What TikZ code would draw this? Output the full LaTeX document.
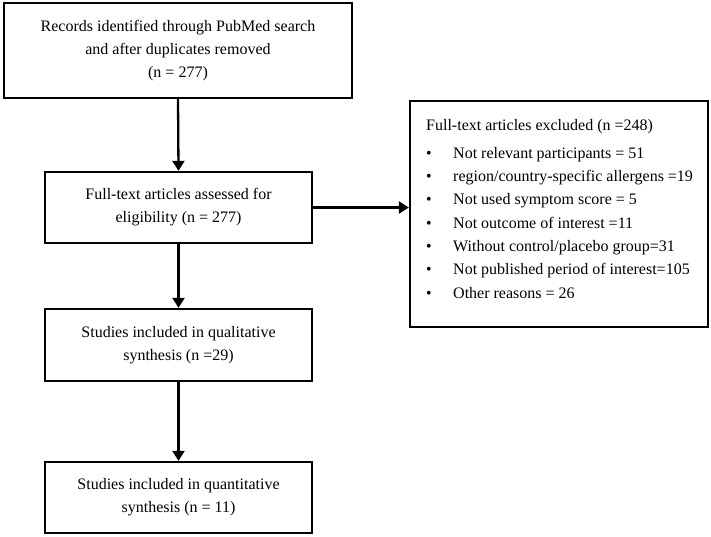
\documentclass[tikz,border=0pt]{standalone}
\usepackage{fontspec}
\setmainfont{Liberation Serif}
\usetikzlibrary{arrows.meta}
\begin{document}
\begin{tikzpicture}[x=1pt,y=-1pt,
  box/.style={draw=black,line width=2.3pt,rectangle,inner sep=0pt,align=center,
    font=\fontsize{16}{23}\selectfont},
  conn/.style={line width=2.3pt,-{Triangle[width=12pt,length=10pt]}},
  txt/.style={inner sep=0pt,align=left,font=\fontsize{16}{23.3}\selectfont}]
\useasboundingbox (0,0) rectangle (711,537);
\node[box,minimum width=348pt,minimum height=95pt] (b1) at (178,50.5)
  {Records identified through PubMed search\\and after duplicates removed\\(n = 277)};
\node[box,minimum width=267pt,minimum height=71pt] (b2) at (178.5,207.5)
  {Full-text articles assessed for\\eligibility (n = 277)};
\node[box,minimum width=267pt,minimum height=72pt] (b4) at (178.5,345)
  {Studies included in qualitative\\synthesis (n =29)};
\node[box,minimum width=267pt,minimum height=71pt] (b5) at (178.5,497.5)
  {Studies included in quantitative\\synthesis (n = 11)};
\node[box,minimum width=298pt,minimum height=226pt] (b3) at (559,214) {};
\node[txt,anchor=north west] (t3) at (426,119)
  {Full-text articles excluded (n =248)\\[4.7pt]
   \makebox[27pt][l]{\textbullet}Not relevant participants = 51\\
   \makebox[27pt][l]{\textbullet}region/country-specific allergens =19\\
   \makebox[27pt][l]{\textbullet}Not used symptom score = 5\\
   \makebox[27pt][l]{\textbullet}Not outcome of interest =11\\
   \makebox[27pt][l]{\textbullet}Without control/placebo group=31\\
   \makebox[27pt][l]{\textbullet}Not published period of interest=105\\
   \makebox[27pt][l]{\textbullet}Other reasons = 26};
\draw[conn] (b1.south) -- (b2.north);
\draw[conn] (b2.east) -- (b2.east -| b3.west);
\draw[conn] (b2.south) -- (b4.north);
\draw[conn] (b4.south) -- (b5.north);
\end{tikzpicture}
\end{document}
